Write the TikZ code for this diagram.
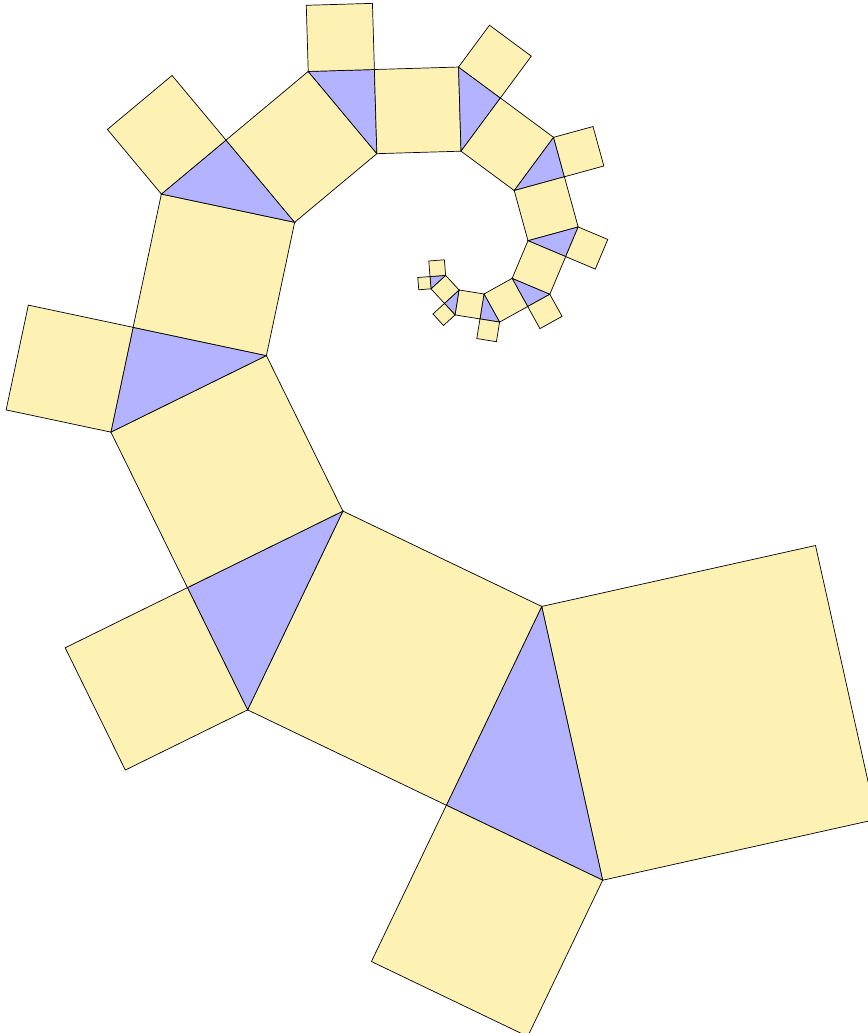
\documentclass[tikz,border=0pt]{standalone}

\definecolor{quadgelb}{RGB}{253,242,180}
\definecolor{dreiblau}{RGB}{179,179,255}

\tikzset{
	quadrat/.style={fill=quadgelb, draw=black},
	dreieck/.style={fill=dreiblau, draw=black}
}

% Winkel mit sin = goldener Schnitt
\pgfmathsetmacro\winkel{asin(0.618034)}
\pgfmathsetmacro\kos{cos(\winkel)}
\pgfmathsetmacro\sinus{sin(\winkel)}

\newcommand\pythschritt[1]{%
	% Quadrat
	\filldraw[quadrat] (0,0) rectangle (1,1);
	\ifnum#1>0
	% Dreieck
	\filldraw[dreieck] (0,1) -- (1,1) -- (\kos*\kos,1+\kos*\sinus) -- cycle;
	% kleines Quadrat
	\begin{scope}[shift={(\kos*\kos,1+\kos*\sinus)}, rotate=\winkel-90, scale=\sinus]
	\filldraw[quadrat] (0,0) rectangle (1,1);
	\end{scope}
	% weiter in der Spirale
	\begin{scope}[shift={(0,1)}, rotate=\winkel, scale=\kos]
	\pgfmathtruncatemacro\rest{#1-1}
	\pythschritt{\rest}
	\end{scope}
	\fi}

\begin{document}
\begin{tikzpicture}[x=0.02cm, y=0.02cm, yscale=-1]
	
	\useasboundingbox (0,0) rectangle (867,1033);
	
	% Spirale
	\begin{scope}[shift={(815.5,545.5)}, rotate=77.45, scale=280.5]
	\pythschritt{12}
	\end{scope}
	
\end{tikzpicture}
\end{document}
